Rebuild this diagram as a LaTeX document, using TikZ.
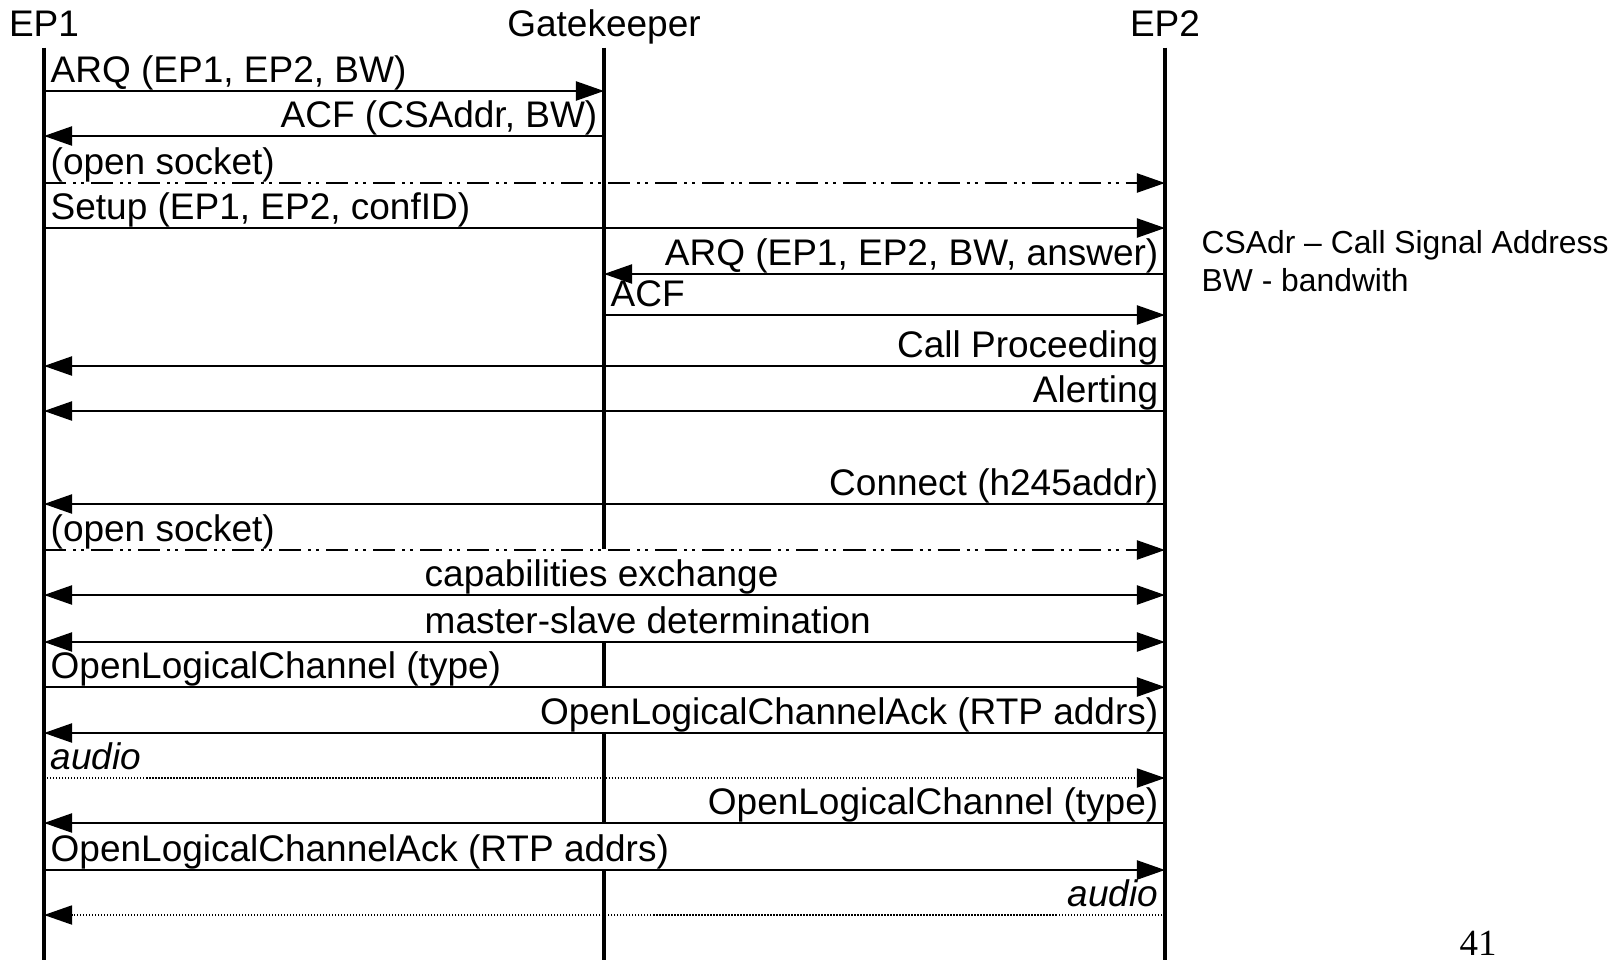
\documentclass[tikz,border=0pt]{standalone}
\usepackage{fontspec}
\setmainfont{Liberation Sans}
\newfontfamily\pagefont{Liberation Serif}
\usepackage{tikz}
\usetikzlibrary{arrows.meta}

\begin{document}
\begin{tikzpicture}[
    x=0.01cm, y=-0.01cm,
    font=\fontsize{10.52pt}{12pt}\selectfont,
    title/.style={anchor=base, text height=0.27cm, text depth=0.08cm, inner xsep=0pt, inner ysep=0.03cm},
    life/.style={line width=0.035cm},
    lbl/.style={fill=white, inner sep=0pt, text height=0.37cm, text depth=0.08cm},
    lblL/.style={lbl, anchor=south west, xshift=0.06cm},
    lblR/.style={lbl, anchor=south east, xshift=-0.06cm},
    msg/.style={-{Triangle[length=0.28cm,width=0.19cm]}, line width=0.022cm},
    both/.style={{Triangle[length=0.28cm,width=0.19cm]}-{Triangle[length=0.28cm,width=0.19cm]}, line width=0.022cm},
    dashdotdot/.style={dash pattern=on 0.22cm off 0.07cm on 0.03cm off 0.05cm on 0.03cm off 0.07cm},
    audioline/.style={line width=0.018cm, dash pattern=on 0.014cm off 0.016cm},
    note/.style={anchor=base west, inner sep=0pt, font=\fontsize{9.05pt}{11pt}\selectfont}
]
\useasboundingbox (0,0) rectangle (1620,960);

\node[title] (ep1) at (44,36)   {EP1};
\node[title] (gk)  at (604,36)  {Gatekeeper};
\node[title] (ep2) at (1165,36) {EP2};

\coordinate (ep1b) at (44,960);
\coordinate (gkb)  at (604,960);
\coordinate (ep2b) at (1165,960);

\draw[life] (ep1) -- (ep1b);
\draw[life] (gk) -- (gkb);
\draw[life] (ep2) -- (ep2b);

\foreach \r/\y in {1/91,2/136,3/183,4/228,5/274,6/315,7/366,8/411,9/504,10/550,11/595,12/642,13/687,14/733,15/778,16/823,17/870,18/915}{
    \coordinate (a\r) at (44,\y);
    \coordinate (g\r) at (604,\y);
    \coordinate (b\r) at (1165,\y);
}

\node[lblL] (l1)  at (a1)  {ARQ (EP1, EP2, BW)};
\node[lblR] (l2)  at (g2)  {ACF (CSAddr, BW)};
\node[lblL] (l3)  at (a3)  {(open socket)};
\node[lblL] (l4)  at (a4)  {Setup (EP1, EP2, confID)};
\node[lblR] (l5)  at (b5)  {ARQ (EP1, EP2, BW, answer)};
\node[lblL] (l6)  at (g6)  {ACF};
\node[lblR] (l7)  at (b7)  {Call Proceeding};
\node[lblR] (l8)  at (b8)  {Alerting};
\node[lblR] (l9)  at (b9)  {Connect (h245addr)};
\node[lblL] (l10) at (a10) {(open socket)};
\node[lbl, anchor=south west] (l11) at (424,595) {capabilities exchange};
\node[lbl, anchor=south west] (l12) at (424,642) {master-slave determination};
\node[lblL] (l13) at (a13) {OpenLogicalChannel (type)};
\node[lblR] (l14) at (b14) {OpenLogicalChannelAck (RTP addrs)};
\node[lblL] (l15) at (a15) {\itshape audio};
\node[lblR] (l16) at (b16) {OpenLogicalChannel (type)};
\node[lblL] (l17) at (a17) {OpenLogicalChannelAck (RTP addrs)};
\node[lblR] (l18) at (b18) {\itshape audio};

\draw[msg] (a1) -- (g1);
\draw[msg] (g2) -- (a2);
\draw[msg, dashdotdot] (a3) -- (b3);
\draw[msg] (a4) -- (b4);
\draw[msg] (b5) -- (g5);
\draw[msg] (g6) -- (b6);
\draw[msg] (b7) -- (a7);
\draw[msg] (b8) -- (a8);
\draw[msg] (b9) -- (a9);
\draw[msg, dashdotdot] (a10) -- (b10);
\draw[both] (a11) -- (b11);
\draw[both] (a12) -- (b12);
\draw[msg] (a13) -- (b13);
\draw[msg] (b14) -- (a14);
\draw[msg, audioline] (a15) -- (b15);
\draw[msg] (b16) -- (a16);
\draw[msg] (a17) -- (b17);
\draw[msg, audioline] (b18) -- (a18);

\node[note] (note1) at (1201,253) {CSAdr – Call Signal Address};
\node[note] (note2) at (1201,291) {BW - bandwith};

\node[anchor=base, inner sep=0pt, font=\pagefont\fontsize{10.5pt}{12pt}\selectfont] (pnum) at (1478,955) {41};
\end{tikzpicture}
\end{document}
